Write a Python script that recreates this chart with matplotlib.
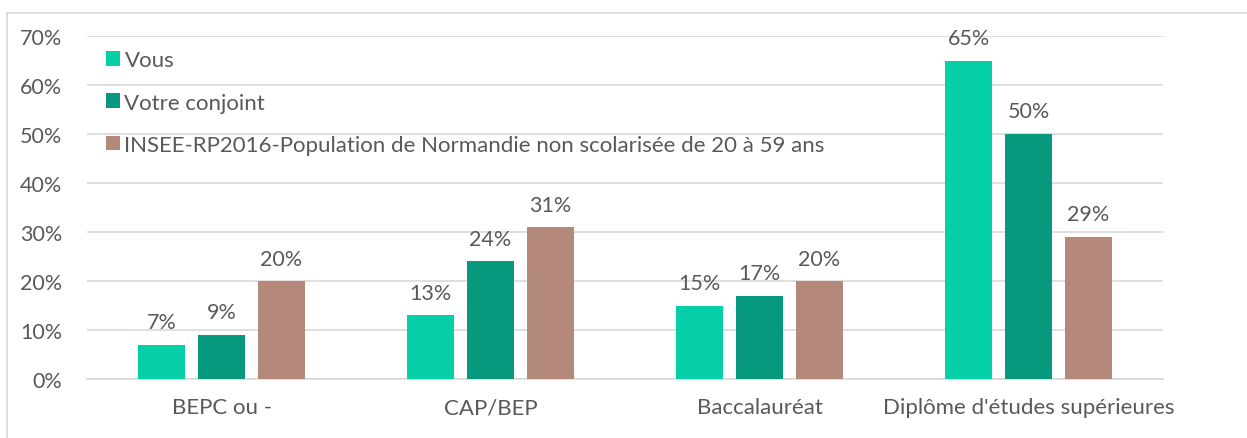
import numpy as np
import matplotlib.pyplot as plt
from matplotlib.patches import Rectangle

# categories and series (percent)
categories = ["BEPC ou -", "CAP/BEP", "Baccalauréat", "Diplôme d'études supérieures"]
vous = [7, 13, 15, 65]
conjoint = [9, 24, 17, 50]
insee = [20, 31, 20, 29]
series_names = ["Vous", "Votre conjoint",
                "INSEE-RP2016-Population de Normandie non scolarisée de 20 à 59 ans"]
colors = ["#05CFA6", "#06997D", "#B4897B"]
yticks = [0, 10, 20, 30, 40, 50, 60, 70]

plt.rcParams['font.family'] = ['Lato', 'DejaVu Sans']
TEXT = "#595959"

fig = plt.figure(figsize=(12.47, 4.39), dpi=100)
ax = fig.add_axes([87/1247, 59/439, (1163-87)/1247, (380-37)/439])

# light frame round the chart
fig.patches.append(Rectangle((7/1247, -0.1), 1.2, 1.1 - 14/439, transform=fig.transFigure,
                             fill=False, edgecolor="#D9D9D9", linewidth=1.2))

x = np.arange(len(categories))
width = 0.175
step = 0.223
for i, (vals, name, col) in enumerate(zip([vous, conjoint, insee], series_names, colors)):
    bars = ax.bar(x + (i - 1) * step, vals, width, color=col, label=name, zorder=3)
    for b, v in zip(bars, vals):
        ax.annotate(f"{v}%", (b.get_x() + b.get_width() / 2, v), xytext=(0, 9),
                    textcoords="offset points", ha="center", va="bottom",
                    fontsize=15.5, color=TEXT)

ax.set_xlim(-0.5, len(categories) - 0.5)
ax.set_ylim(0, 70)
ax.set_yticks(yticks)
ax.set_yticklabels([f"{t}%" for t in yticks])
ax.set_xticks(x)
ax.set_xticklabels(categories, fontsize=16)
ax.tick_params(axis="both", length=0, labelsize=15.5, labelcolor=TEXT)
ax.tick_params(axis="x", labelsize=16, pad=13)
ax.tick_params(axis="y", pad=18)
ax.yaxis.grid(True, color="#D9D9D9", linewidth=1.2, zorder=0)
for s in ax.spines.values():
    s.set_visible(False)
ax.spines["bottom"].set_visible(True)
ax.spines["bottom"].set_color("#D9D9D9")
ax.spines["bottom"].set_linewidth(1.2)

leg = ax.legend(loc="upper left", bbox_to_anchor=(0.009, 0.984), frameon=False,
                fontsize=16, handlelength=0.65, handleheight=0.65, handletextpad=0.2,
                labelspacing=1.0, labelcolor=TEXT, borderaxespad=0)

fig.savefig("out.png", dpi=100)
